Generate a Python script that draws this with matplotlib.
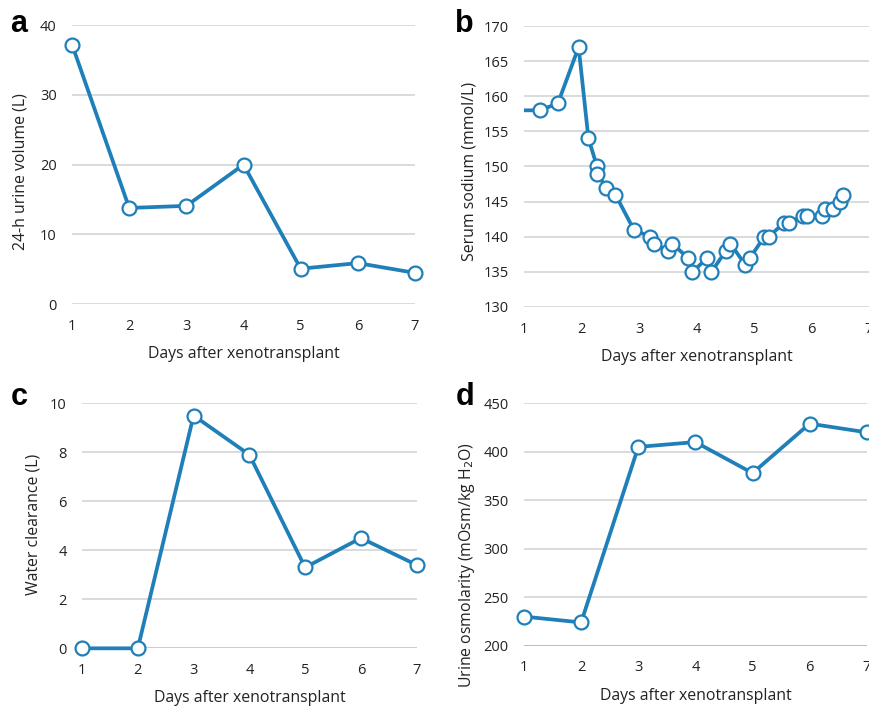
import matplotlib
matplotlib.use("Agg")
import matplotlib.pyplot as plt

plt.rcParams['font.family'] = ['Open Sans', 'DejaVu Sans']

# Data
days = [1, 2, 3, 4, 5, 6, 7]
urine_volume = [37.2, 13.8, 14.1, 20.0, 5.1, 5.9, 4.5]
water_clearance = [0.0, 0.0, 9.5, 7.9, 3.3, 4.5, 3.4]
urine_osm = [230, 224, 405, 410, 378, 429, 420]

sodium_days = [0.8, 1.28, 1.59, 1.95, 2.12, 2.27, 2.27, 2.43, 2.59, 2.91, 3.19, 3.26,
               3.50, 3.58, 3.85, 3.93, 4.19, 4.26, 4.51, 4.59, 4.85, 4.93, 5.18,
               5.26, 5.52, 5.60, 5.85, 5.92, 6.18, 6.23, 6.38, 6.50, 6.55]
sodium = [158, 158, 159, 167, 154, 150, 149, 147, 146, 141, 140, 139,
          138, 139, 137, 135, 137, 135, 138, 139, 136, 137, 140,
          140, 142, 142, 143, 143, 143, 144, 144, 145, 146]

xlabel = "Days after xenotransplant"
color = "#1f7fb8"

fig = plt.figure(figsize=(8.69, 7.07), dpi=100)

def style(ax, ylim, yticks, ylabel, lab_xy):
    ax.set_xlim(1, 7)
    ax.set_ylim(*ylim)
    ax.set_yticks(yticks)
    ax.set_xticks(range(1, 8))
    for s in ax.spines.values():
        s.set_visible(False)
    ax.tick_params(length=0, labelsize=10.5, colors="#222222")
    ax.tick_params(axis="x", pad=10.5)
    ax.tick_params(axis="y", pad=11)
    ax.yaxis.grid(True, color="#d4d4d4", linewidth=1.2)
    ax.set_axisbelow(True)
    ax.set_xlabel(xlabel, fontsize=11.4, color="#222222", labelpad=9)
    ax.set_ylabel(ylabel, fontsize=11.4, color="#222222")
    ax.yaxis.set_label_coords(*lab_xy)

def plot(ax, x, y, clip=False):
    ax.plot(x, y, color=color, linewidth=2.7, marker="o", markersize=10,
            markerfacecolor="white", markeredgecolor=color, markeredgewidth=1.6,
            clip_on=clip, zorder=3)

letter_kw = dict(fontsize=22, fontweight="bold", family="Liberation Sans", va="baseline")

# a
axa = fig.add_axes([0.0829, 0.5696, 0.3947, 0.395])
plot(axa, days, urine_volume)
style(axa, (0, 40), [0, 10, 20, 30, 40], "24-h urine volume (L)", (-0.128, 0.477))
fig.text(0.012, 0.9547, "a", **letter_kw)

# b
axb = fig.add_axes([0.603, 0.5658, 0.397, 0.3974])
plot(axb, sodium_days, sodium, clip=True)
style(axb, (130, 170), list(range(130, 171, 5)), "Serum sodium (mmol/L)", (-0.135, 0.484))
fig.text(0.524, 0.9547, "b", **letter_kw)

# c
axc = fig.add_axes([0.0944, 0.0830, 0.3851, 0.3466])
plot(axc, days, water_clearance)
style(axc, (0, 10), [0, 2, 4, 6, 8, 10], "Water clearance (L)", (-0.12, 0.504))
axc.get_ygridlines()[0].set_color("#c4c4c4")
fig.text(0.012, 0.4272, "c", **letter_kw)

# d
axd = fig.add_axes([0.603, 0.0867, 0.3945, 0.3429])
plot(axd, days, urine_osm)
style(axd, (200, 450), [200, 250, 300, 350, 400, 450], "Urine osmolarity (mOsm/kg H$_2$O)", (-0.137, 0.333))
axd.get_ygridlines()[0].set_color("#b0b0b0")
fig.text(0.524, 0.4272, "d", **letter_kw)

fig.savefig("out.png", dpi=100)
